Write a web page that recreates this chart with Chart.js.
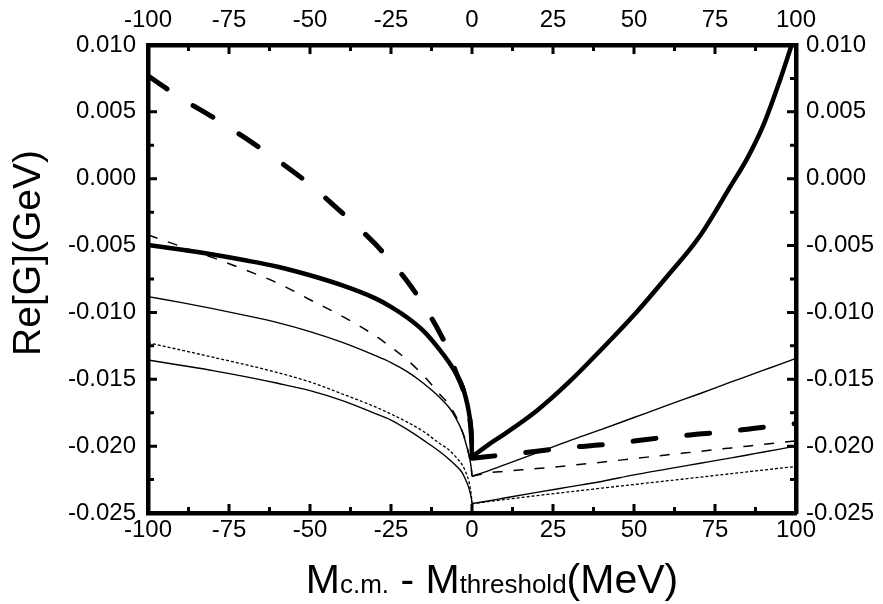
<!DOCTYPE html>
<html><head><meta charset="utf-8">
<script src="https://cdn.jsdelivr.net/npm/chart.js@4/dist/chart.umd.min.js"></script>
<style>html,body{margin:0;padding:0;background:#fff}canvas{display:block}</style>
</head><body>
<canvas id="c" width="883" height="604"></canvas>
<script>
// ---------- data (values in GeV) ----------
const xLeft  = [-100,-90,-80,-70,-60,-50,-40,-30,-25,-20,-15,-10,-7,-5,-3,-2,-1,-0.5,-0.2,0];
const xRight = [0,5,10,20,30,40,50,60,70,80,85,90,95,100];

// thick solid
const A_left  = [-0.00496,-0.00530,-0.00567,-0.00610,-0.00658,-0.00722,-0.00798,-0.00893,-0.00958,-0.01038,-0.01138,-0.01278,-0.01377,-0.01455,-0.01550,-0.01630,-0.01740,-0.01825,-0.01915,-0.02080];
const A_right = [-0.02080,-0.01990,-0.01910,-0.01735,-0.01520,-0.01275,-0.01020,-0.00737,-0.00440,-0.00048,0.00154,0.00404,0.00733,0.01100];
// thick dashed
const B_left  = [0.00770,0.00605,0.00460,0.00305,0.00138,-0.00044,-0.00257,-0.00485,-0.00620,-0.00767,-0.00943,-0.01150,-0.01300,-0.01445,-0.01560,-0.01640,-0.01750,-0.01830,-0.01920,-0.02080];
const B_right = [-0.02090,-0.02078,-0.02065,-0.02038,-0.02010,-0.01990,-0.01962,-0.01933,-0.01910,-0.01888,-0.01873,-0.01858,-0.01844,-0.01830];
// thin dashed
const C_left  = [-0.00421,-0.00505,-0.00590,-0.00682,-0.00780,-0.00905,-0.01030,-0.01172,-0.01260,-0.01355,-0.01472,-0.01610,-0.01695,-0.01775,-0.01890,-0.01960,-0.02060,-0.02120,-0.02170,-0.02225];
const C_right = [-0.02225,-0.02200,-0.02188,-0.02168,-0.02145,-0.02120,-0.02093,-0.02066,-0.02040,-0.02013,-0.02000,-0.01986,-0.01973,-0.01960];
// thin solid (upper)
const D_left  = [-0.00882,-0.00925,-0.00972,-0.01022,-0.01076,-0.01143,-0.01224,-0.01321,-0.01375,-0.01443,-0.01530,-0.01635,-0.01713,-0.01790,-0.01890,-0.01970,-0.02060,-0.02120,-0.02170,-0.02225];
const D_right = [-0.02225,-0.02185,-0.02140,-0.02050,-0.01960,-0.01875,-0.01786,-0.01697,-0.01610,-0.01520,-0.01476,-0.01432,-0.01388,-0.01343];
// dotted
const E_left  = [-0.01227,-0.01280,-0.01335,-0.01390,-0.01450,-0.01520,-0.01610,-0.01705,-0.01760,-0.01820,-0.01890,-0.01980,-0.02030,-0.02080,-0.02140,-0.02190,-0.02260,-0.02320,-0.02370,-0.02430];
const E_right = [-0.02430,-0.02415,-0.02400,-0.02370,-0.02342,-0.02314,-0.02287,-0.02260,-0.02233,-0.02206,-0.02192,-0.02179,-0.02165,-0.02152];
// thin solid (lower)
const F_left  = [-0.01356,-0.01395,-0.01435,-0.01480,-0.01530,-0.01585,-0.01660,-0.01755,-0.01805,-0.01875,-0.01955,-0.02040,-0.02100,-0.02145,-0.02200,-0.02250,-0.02310,-0.02355,-0.02390,-0.02430];
const F_right = [-0.02430,-0.02410,-0.02388,-0.02346,-0.02305,-0.02264,-0.02215,-0.02172,-0.02130,-0.02088,-0.02066,-0.02044,-0.02022,-0.02000];

// tick labels
const xTickValues = [-100,-75,-50,-25,0,25,50,75,100];
const yTickValues = [0.010,0.005,0.000,-0.005,-0.010,-0.015,-0.020,-0.025];
const Y_TITLE = 'Re[G](GeV)';
const X_TITLE_PARTS = [['M','big'],['c.m.','small'],[' - ','big'],['M','big'],['threshold','small'],['(MeV)','big']];

// ---------- chart ----------
const FONT = "'Liberation Sans', Arial, Helvetica, sans-serif";
const tickFont = {family: FONT, size: 24};
const yFmt = v => { const r = Math.round(v*1000)/1000; return (Math.abs(r) < 1e-9 ? 0 : r).toFixed(3); };
const mk = (xs, ys) => xs.map((x, i) => ({x, y: ys[i]}));

const styleA = {borderWidth: 4.5, borderDash: []};
const styleB = {borderWidth: 5, borderDash: [23, 31], borderCapStyle: 'round'};
const styleC = {borderWidth: 1.5, borderDash: [10, 11]};
const styleD = {borderWidth: 1.4, borderDash: []};
const styleE = {borderWidth: 1.3, borderDash: [3, 2]};
const styleF = {borderWidth: 1.4, borderDash: []};

const ds = (data, st) => Object.assign({data, borderColor: '#000', backgroundColor: '#000', pointRadius: 0, fill: false,
  cubicInterpolationMode: 'monotone', showLine: true}, st);

const datasets = [
  ds(mk(xLeft, A_left), styleA), ds(mk(xRight, A_right), styleA),
  ds(mk(xLeft, B_left), styleB), ds(mk(xRight, B_right), styleB),
  ds(mk(xLeft, C_left), styleC), ds(mk(xRight, C_right), styleC),
  ds(mk(xLeft, D_left), styleD), ds(mk(xRight, D_right), styleD),
  ds(mk(xLeft, E_left), styleE), ds(mk(xRight, E_right), styleE),
  ds(mk(xLeft, F_left), styleF), ds(mk(xRight, F_right), styleF)
];

const setXTicks = s => { s.ticks = xTickValues.map(v => ({value: v})); };
const setYTicks = s => { s.ticks = yTickValues.slice().reverse().map(v => ({value: v})); };

const xAxis = (pos, pad, h) => ({
  type: 'linear', position: pos, min: -100, max: 100,
  ticks: {font: tickFont, color: '#000', padding: pad, maxRotation: 0, autoSkip: false, callback: v => String(v)},
  grid: {display: false, drawTicks: false}, border: {display: true, color: '#000', width: 4.5},
  afterBuildTicks: setXTicks,
  afterFit: s => { s.height = h; }
});
const yAxis = (pos, pad, w) => ({
  type: 'linear', position: pos, min: -0.025, max: 0.010,
  ticks: {font: tickFont, color: '#000', padding: pad, autoSkip: false, callback: yFmt},
  grid: {display: false, drawTicks: false}, border: {display: true, color: '#000', width: 4.5},
  afterBuildTicks: setYTicks,
  afterFit: s => { s.width = w; }
});

const inTicks = {
  id: 'inTicks',
  afterDraw(chart) {
    const {ctx, chartArea: a, scales} = chart;
    ctx.save();
    ctx.strokeStyle = '#000';
    ctx.lineWidth = 3;
    const xs = scales.x, ys = scales.y;
    const xv = [];
    for (let i = 0; i < xTickValues.length; i++) {
      xv.push([xTickValues[i], 9]);
      if (i < xTickValues.length - 1) xv.push([(xTickValues[i] + xTickValues[i+1]) / 2, 6]);
    }
    const yv = [];
    for (let i = 0; i < yTickValues.length; i++) {
      yv.push([yTickValues[i], 9]);
      if (i < yTickValues.length - 1) yv.push([(yTickValues[i] + yTickValues[i+1]) / 2, 6]);
    }
    ctx.beginPath();
    for (const [v, len] of xv) {
      const p = xs.getPixelForValue(v);
      ctx.moveTo(p, a.bottom); ctx.lineTo(p, a.bottom - len);
      ctx.moveTo(p, a.top); ctx.lineTo(p, a.top + len);
    }
    for (const [v, len] of yv) {
      const p = ys.getPixelForValue(v);
      ctx.moveTo(a.left, p); ctx.lineTo(a.left + len, p);
      ctx.moveTo(a.right, p); ctx.lineTo(a.right - len, p);
    }
    ctx.stroke();
    ctx.restore();
  }
};

const titles = {
  id: 'titles',
  afterDraw(chart) {
    const ctx = chart.ctx;
    ctx.save();
    ctx.fillStyle = '#000';
    // y title
    ctx.translate(29, 253);
    ctx.rotate(-Math.PI / 2);
    ctx.font = `39px ${FONT}`;
    ctx.textAlign = 'center';
    ctx.textBaseline = 'middle';
    ctx.fillText(Y_TITLE, 0, 0);
    ctx.restore();
    // x title
    ctx.save();
    ctx.fillStyle = '#000';
    const fonts = {big: `41px ${FONT}`, small: `26px ${FONT}`};
    let total = 0;
    for (const [t, f] of X_TITLE_PARTS) { ctx.font = fonts[f]; total += ctx.measureText(t).width; }
    let x = 492 - total / 2;
    const base = 593;
    ctx.textBaseline = 'alphabetic';
    ctx.textAlign = 'left';
    for (const [t, f] of X_TITLE_PARTS) { ctx.font = fonts[f]; ctx.fillText(t, x, base); x += ctx.measureText(t).width; }
    ctx.restore();
  }
};

new Chart(document.getElementById('c'), {
  type: 'scatter',
  data: {datasets},
  options: {
    responsive: false, animation: false, devicePixelRatio: 1,
    layout: {padding: 0},
    plugins: {legend: {display: false}, tooltip: {enabled: false}},
    scales: {
      x: xAxis('bottom', 3, 91),
      x2: xAxis('top', 10, 45),
      y: yAxis('left', 12, 148),
      y2: yAxis('right', 10, 87)
    }
  },
  plugins: [inTicks, titles]
});
</script>
</body></html>
